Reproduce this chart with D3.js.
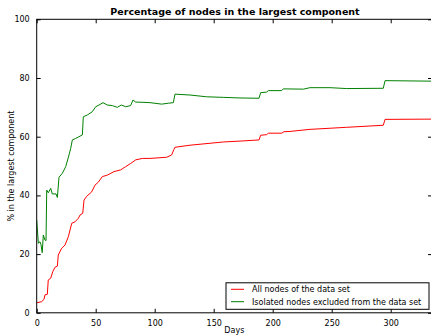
<!DOCTYPE html>
<html lang="en">
<head>
  <meta charset="UTF-8">
  <title></title>
  <style>
    html, body {
      margin: 0;
      background: #fff;
      overflow: hidden;
      width: 100%;
      height: 100%;
    }
    svg {
      position: absolute;
      top: 0;
      left: 0;
      font-family: "DejaVu Sans", sans-serif;
    }
  </style>
</head>
<body>
  <svg width="431" height="335"></svg>
</body>
<script src="https://d3js.org/d3.v7.min.js"></script>
<script type="text/javascript">
  // all nodes of the data set
  const allDays = [0, 4.2, 6.2, 7, 9, 9.8, 11.9, 13.6, 15.5, 17.5, 18.3, 21.2, 24, 26.8, 29.7, 32.5,
    35.3, 36.7, 39, 40.1, 42.4, 46.6, 49.4, 52.2, 55.6, 59.8, 65.5, 71.2, 75.4, 79.7, 83.9, 89.5,
    96, 110.2, 114.4, 116.2, 117.2, 129.9, 158.1, 172.3, 188.4, 189.8, 194.9, 196.3, 207.6, 209.6,
    214.7, 231.6, 262.7, 293.7, 295.2, 340]
  const allPct = [3.4, 3.8, 4.6, 6.1, 6.3, 11.2, 11.8, 14.0, 15.5, 15.9, 19.7, 22.0, 23.1, 25.9, 30.5, 31.0,
    32.2, 33.3, 33.9, 38.4, 39.7, 41.2, 43.5, 44.5, 46.4, 46.9, 48.1, 48.7, 49.8, 50.9, 52.1, 52.6,
    52.6, 53.0, 53.8, 55.6, 56.4, 57.1, 58.2, 58.5, 58.9, 60.5, 60.7, 61.2, 61.2, 61.7,
    61.8, 62.5, 63.2, 63.9, 65.9, 66.0]

  // isolated nodes excluded from the data set
  const isoDays = [0, 1.4, 2.8, 3.6, 4.7, 5.6, 7, 7.9, 8.5, 9.8, 11.9, 13.2, 16.4, 17.5, 18.9, 21.7,
    24.6, 27.4, 28.8, 30.2, 33, 35.8, 38.7, 39.5, 42.9, 47.1, 50, 52.8, 56.2, 59.8, 64.1, 68.3,
    71.7, 75.4, 79.6, 81.6, 83.9, 90.9, 96, 105.9, 111.5, 115.8, 117.2, 129.9, 144, 158.1, 172.3,
    188.4, 189.8, 194.9, 196.3, 207.6, 209, 226, 231.6, 248.6, 262.7, 293.7, 295.2, 340]
  const isoPct = [31.6, 23.7, 24.2, 23.3, 20.5, 26.5, 24.8, 24.6, 41.8, 40.9, 42.4, 40.5, 40.5, 39.3, 46.2, 47.5,
    49.8, 53.8, 56.0, 58.9, 59.4, 60.0, 60.6, 66.8, 67.4, 68.5, 70.2, 70.8, 71.6, 70.8, 70.6, 70.0,
    70.8, 70.2, 70.6, 72.5, 71.8, 71.7, 71.6, 71.1, 71.4, 71.6, 74.5, 74.2, 73.6, 73.4, 73.2,
    73.1, 75.0, 75.2, 75.7, 75.7, 76.3, 76.2, 76.7, 76.7, 76.4, 76.5, 79.1, 78.9]

  const xTicks = [0, 50, 100, 150, 200, 250, 300]
  const yTicks = [0, 20, 40, 60, 80, 100]

  const svg = d3.select('svg')
  const x0 = 36.7, x1 = 432, y0 = 19.3, y1 = 312.8

  const x = d3.scaleLinear().domain([0, 335]).range([x0, x1])
  const y = d3.scaleLinear().domain([0, 100]).range([y1, y0])

  svg.append('clipPath').attr('id', 'clip')
    .append('rect')
    .attr('x', x0).attr('y', y0)
    .attr('width', x1 - x0).attr('height', y1 - y0)

  const line = d3.line().x(d => x(d[0])).y(d => y(d[1]))

  const plot = svg.append('g').attr('clip-path', 'url(#clip)')
  plot.append('path')
    .datum(allDays.map((d, i) => [d, allPct[i]]))
    .attr('d', line)
    .attr('fill', 'none')
    .attr('stroke', '#ff0000')
    .attr('stroke-width', 1)
  plot.append('path')
    .datum(isoDays.map((d, i) => [d, isoPct[i]]))
    .attr('d', line)
    .attr('fill', 'none')
    .attr('stroke', '#008000')
    .attr('stroke-width', 1)

  // axes, matplotlib classic style: ticks inside on all four sides
  function styleAxis(g) {
    g.select('.domain').remove()
    g.selectAll('line').attr('stroke', '#000').attr('stroke-width', 1)
    g.selectAll('text').attr('fill', '#000').attr('font-size', 8)
      .attr('font-family', '"DejaVu Sans", sans-serif')
  }

  svg.append('g')
    .attr('transform', 'translate(0,' + y1 + ')')
    .call(d3.axisBottom(x).tickValues(xTicks).tickSizeInner(-4).tickSizeOuter(0).tickPadding(8))
    .call(styleAxis)
  svg.append('g')
    .attr('transform', 'translate(0,' + y0 + ')')
    .call(d3.axisTop(x).tickValues(xTicks).tickSizeInner(-4).tickSizeOuter(0).tickFormat(''))
    .call(styleAxis)
  svg.append('g')
    .attr('transform', 'translate(' + x0 + ',0)')
    .call(d3.axisLeft(y).tickValues(yTicks).tickSizeInner(-4).tickSizeOuter(0).tickPadding(7))
    .call(styleAxis)
  svg.append('g')
    .attr('transform', 'translate(' + x1 + ',0)')
    .call(d3.axisRight(y).tickValues(yTicks).tickSizeInner(-4).tickSizeOuter(0).tickFormat(''))
    .call(styleAxis)

  svg.append('rect')
    .attr('x', x0).attr('y', y0)
    .attr('width', x1 - x0).attr('height', y1 - y0)
    .attr('fill', 'none').attr('stroke', '#000').attr('stroke-width', 1)

  svg.append('text')
    .attr('x', 235).attr('y', 15)
    .attr('text-anchor', 'middle')
    .attr('font-size', 9.5).attr('font-weight', 'bold')
    .text('Percentage of nodes in the largest component')

  svg.append('text')
    .attr('x', (x0 + x1) / 2).attr('y', 333)
    .attr('text-anchor', 'middle')
    .attr('font-size', 8)
    .text('Days')

  svg.append('text')
    .attr('transform', 'translate(14,' + (y0 + y1) / 2 + ') rotate(-90)')
    .attr('text-anchor', 'middle')
    .attr('font-size', 8)
    .text('% in the largest component')

  // legend
  const legendItems = [
    { label: 'All nodes of the data set', color: '#ff0000' },
    { label: 'Isolated nodes excluded from the data set', color: '#008000' }
  ]
  const lg = svg.append('g')
  lg.append('rect')
    .attr('x', 226).attr('y', 282.8)
    .attr('width', 203).attr('height', 26.5)
    .attr('fill', '#fff').attr('stroke', '#000').attr('stroke-width', 1)
  legendItems.forEach((item, i) => {
    const cy = 289.3 + i * 12.4
    lg.append('line')
      .attr('x1', 231).attr('x2', 244)
      .attr('y1', cy).attr('y2', cy)
      .attr('stroke', item.color).attr('stroke-width', 1)
    lg.append('text')
      .attr('x', 252).attr('y', cy + 3)
      .attr('font-size', 8)
      .text(item.label)
  })
</script>
</html>
